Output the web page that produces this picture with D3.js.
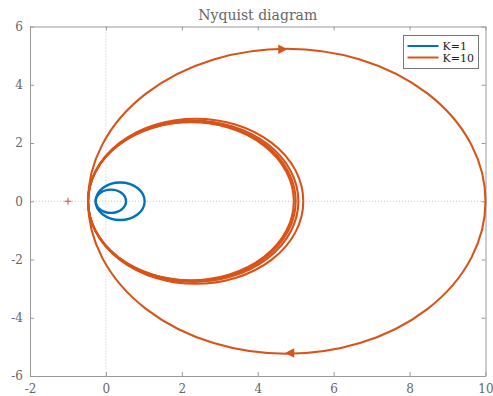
<!DOCTYPE html>
<html>
<head>
<meta charset="utf-8">
<script src="https://cdn.jsdelivr.net/npm/d3@7"></script>
<style>
  html, body { margin: 0; padding: 0; background: #fff; }
  svg { display: block; }
  text { font-family: "DejaVu Serif", "Liberation Serif", serif; }
</style>
</head>
<body>
<svg id="chart" width="493" height="396"></svg>
<script>
// Axis ranges and tick labels
const xTicks = [-2, 0, 2, 4, 6, 8, 10];
const yTicks = [-6, -4, -2, 0, 2, 4, 6];

// Each Nyquist loop is a circle in the complex plane, all touching a common
// leftmost point; loops are listed by their right-hand real-axis crossing.
const seriesNames = ["K=1", "K=10"];
const seriesColors = ["#0072BD", "#D95319"];
const k1Left = -0.27;
const k1Right = [1.02, 0.53];
const k10Left = -0.47;
const k10Right = [10.0, 5.20, 5.07, 5.00, 4.95];

// Direction arrows on the K=10 outer loop: [re, im, angle in degrees]
const arrowRe = [4.62, 4.88];
const arrowIm = [5.22, -5.21];
const arrowDir = [0, 180];

// Critical point
const critical = [-1, 0];

const svg = d3.select("#chart");
const mLeft = 30, mRight = 485.5, mTop = 26.5, mBottom = 376;

const x = d3.scaleLinear().domain([-2, 10]).range([mLeft, mRight]);
const y = d3.scaleLinear().domain([-6, 6]).range([mBottom, mTop]);

const axisColor = "#999";
const labelColor = "#666";
const fmt = d => String(d);

// Dotted zero lines
svg.append("line")
  .attr("x1", x(0)).attr("x2", x(0)).attr("y1", y(6)).attr("y2", y(-6))
  .attr("stroke", "#c8c8c8").attr("stroke-width", 1).attr("stroke-dasharray", "1,2");
svg.append("line")
  .attr("x1", x(-2)).attr("x2", x(10)).attr("y1", y(0)).attr("y2", y(0))
  .attr("stroke", "#c8c8c8").attr("stroke-width", 1).attr("stroke-dasharray", "1,2");

// Axes (ticks pointing inward)
function styleAxis(g, showLabels) {
  g.select(".domain").attr("stroke", axisColor);
  g.selectAll(".tick line").attr("stroke", axisColor);
  g.selectAll(".tick text")
    .attr("fill", labelColor)
    .style("font-size", "12px")
    .style("font-family", "'DejaVu Serif', serif");
  if (!showLabels) g.selectAll(".tick text").remove();
}

svg.append("g").attr("transform", `translate(0,${mBottom})`)
  .call(d3.axisBottom(x).tickValues(xTicks).tickSize(-4).tickSizeOuter(0).tickPadding(8).tickFormat(fmt))
  .call(g => styleAxis(g, true));
svg.append("g").attr("transform", `translate(0,${mTop})`)
  .call(d3.axisTop(x).tickValues(xTicks).tickSize(-4).tickSizeOuter(0))
  .call(g => styleAxis(g, false));
svg.append("g").attr("transform", `translate(${mLeft},0)`)
  .call(d3.axisLeft(y).tickValues(yTicks).tickSize(-4).tickSizeOuter(0).tickPadding(7).tickFormat(fmt))
  .call(g => styleAxis(g, true));
svg.append("g").attr("transform", `translate(${mRight},0)`)
  .call(d3.axisRight(y).tickValues(yTicks).tickSize(-4).tickSizeOuter(0))
  .call(g => styleAxis(g, false));

// Loops
function drawLoops(leftRe, rights, color, width) {
  svg.append("g").selectAll("ellipse")
    .data(rights)
    .join("ellipse")
    .attr("cx", r => x((leftRe + r) / 2))
    .attr("cy", y(0))
    .attr("rx", r => x(r) - x((leftRe + r) / 2))
    .attr("ry", r => y(0) - y((r - leftRe) / 2))
    .attr("fill", "none")
    .attr("stroke", color)
    .attr("stroke-width", width);
}
drawLoops(k10Left, k10Right, seriesColors[1], 2.1);
drawLoops(k1Left, k1Right, seriesColors[0], 2.4);

// Arrowheads
const tri = d3.symbol().type(d3.symbolTriangle).size(40);
svg.append("g").selectAll("path")
  .data(arrowRe.map((re, i) => [re, arrowIm[i], arrowDir[i]]))
  .join("path")
  .attr("d", tri)
  .attr("transform", d => `translate(${x(d[0])},${y(d[1])}) rotate(${d[2] + 90}) scale(1,1.1)`)
  .attr("fill", seriesColors[1]);

// Critical point marker
svg.append("g")
  .attr("transform", `translate(${x(critical[0])},${y(critical[1])})`)
  .call(g => {
    g.append("line").attr("x1", -3.5).attr("x2", 3.5).attr("y1", 0).attr("y2", 0);
    g.append("line").attr("x1", 0).attr("x2", 0).attr("y1", -3.5).attr("y2", 3.5);
  })
  .selectAll("line").attr("stroke", "#e0474c").attr("stroke-width", 1);

// Title
svg.append("text")
  .attr("x", (mLeft + mRight) / 2).attr("y", 20)
  .attr("text-anchor", "middle")
  .attr("fill", labelColor)
  .style("font-size", "14px")
  .text("Nyquist diagram");

// Legend
const lg = svg.append("g").attr("transform", "translate(403.5,35.5)");
lg.append("rect").attr("width", 75).attr("height", 33)
  .attr("fill", "#fff").attr("stroke", "#777").attr("stroke-width", 1);
seriesNames.forEach((name, i) => {
  const yy = 10.5 + i * 11.5;
  lg.append("line").attr("x1", 4).attr("x2", 35).attr("y1", yy).attr("y2", yy)
    .attr("stroke", seriesColors[i]).attr("stroke-width", 2);
  lg.append("text").attr("x", 39).attr("y", yy + 4)
    .attr("fill", "#222").style("font-size", "11px").text(name);
});
</script>
</body>
</html>
